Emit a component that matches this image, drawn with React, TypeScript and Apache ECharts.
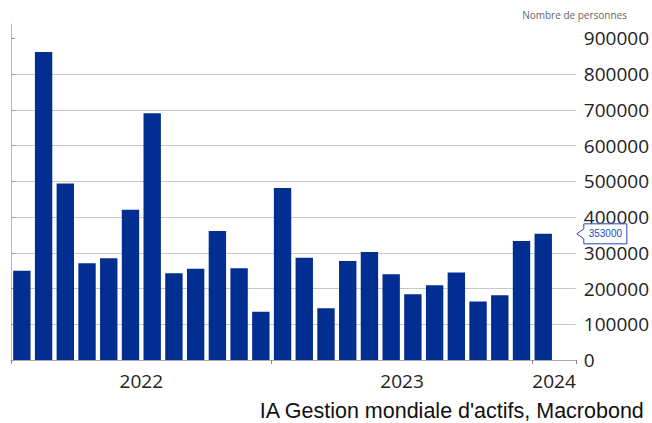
import React, { useEffect, useRef } from "react";
import * as echarts from "echarts";

const months: string[] = [
  "2022-01","2022-02","2022-03","2022-04","2022-05","2022-06","2022-07","2022-08","2022-09","2022-10","2022-11","2022-12",
  "2023-01","2023-02","2023-03","2023-04","2023-05","2023-06","2023-07","2023-08","2023-09","2023-10","2023-11","2023-12",
  "2024-01","2024-02",
];
const values: (number | null)[] = [
  250000, 862000, 494000, 271000, 285000, 420000, 690000, 243000, 255000, 361000, 257000, 135000,
  481000, 286000, 145000, 277000, 302000, 240000, 184000, 209000, 245000, 164000, 181000, 333000,
  353000, null,
];
const yearLabels: { pos: number; text: string }[] = [
  { pos: 6, text: "2022" },
  { pos: 18, text: "2023" },
  { pos: 25, text: "2024" },
];
const yTicks: number[] = [0, 100000, 200000, 300000, 400000, 500000, 600000, 700000, 800000, 900000];
const calloutIndex = 24;
const unitLabel = "Nombre de personnes";
const sourceLabel = "IA Gestion mondiale d'actifs, Macrobond";

export default function App() {
  const ref = useRef<HTMLDivElement>(null);
  useEffect(() => {
    if (!ref.current) return;
    const chart = echarts.init(ref.current, null, { renderer: "svg" });
    const barColor = "#022d91";
    const calloutColor = "#2448c0";
    chart.setOption({
      animation: false,
      backgroundColor: "#ffffff",
      grid: { left: 11, right: 76, top: 24, bottom: 63, containLabel: false },
      title: [
        {
          text: unitLabel,
          right: 25,
          top: 9,
          padding: 0,
          textStyle: { fontSize: 10, lineHeight: 12, fontWeight: "normal", color: "#666", fontFamily: "Open Sans" },
        },
        {
          text: sourceLabel,
          right: 7,
          top: 400,
          padding: 0,
          textStyle: { fontSize: 21.5, lineHeight: 21.5, fontWeight: "normal", color: "#111", fontFamily: "Liberation Sans" },
        },
      ],
      xAxis: [
        {
          type: "category",
          data: months,
          boundaryGap: true,
          axisLine: { show: true, lineStyle: { color: "#aaa", width: 1 } },
          axisTick: { show: true, length: 4, interval: (i: number) => i % 12 === 0, lineStyle: { color: "#888" } },
          axisLabel: { show: false },
          splitLine: { show: false },
        },
        {
          type: "value",
          position: "bottom",
          min: 0,
          max: months.length,
          interval: 1,
          axisLine: { show: false },
          axisTick: { show: false },
          splitLine: { show: false },
          axisLabel: {
            show: true,
            margin: 11,
            fontSize: 19,
            color: "#222",
            fontFamily: "Open Sans",
            formatter: (v: number) => {
              const f = yearLabels.find((y) => y.pos === v);
              return f ? f.text : "";
            },
          },
        },
      ],
      yAxis: {
        type: "value",
        position: "right",
        min: 0,
        max: 940000,
        interval: 100000,
        axisLine: { show: true, lineStyle: { color: "#bbb", width: 1 } },
        axisTick: { show: true, length: 4, customValues: yTicks, lineStyle: { color: "#999" } },
        axisLabel: {
          show: true,
          customValues: yTicks,
          margin: 8,
          fontSize: 19,
          color: "#222",
          fontFamily: "Open Sans",
          formatter: (v: number) => String(v),
        },
        splitLine: { show: true, showMaxLine: false, lineStyle: { color: "#c8c8c8", width: 1 } },
      },
      series: [
        {
          type: "bar",
          data: values,
          xAxisIndex: 0,
          barCategoryGap: "20%",
          itemStyle: { color: barColor },
        },
        {
          type: "custom",
          xAxisIndex: 0,
          z: 5,
          data: [[calloutIndex, values[calloutIndex]]],
          renderItem: (params: any, api: any) => {
            const v = api.value(1);
            const pt = api.coord([api.value(0), v]);
            const cs = params.coordSys;
            const x0 = cs.x + cs.width + 1;
            const y = pt[1];
            return {
              type: "group",
              children: [
                {
                  type: "polygon",
                  shape: {
                    points: [
                      [x0, y],
                      [x0 + 7, y - 5],
                      [x0 + 7, y - 10],
                      [x0 + 50, y - 10],
                      [x0 + 50, y + 10],
                      [x0 + 7, y + 10],
                      [x0 + 7, y + 5],
                    ],
                  },
                  style: { fill: "#fff", stroke: calloutColor, lineWidth: 1 },
                },
                {
                  type: "text",
                  x: x0 + 28.5,
                  y: y,
                  style: {
                    text: String(v),
                    fill: calloutColor,
                    fontSize: 10,
                    fontFamily: "Liberation Sans",
                    align: "center",
                    verticalAlign: "middle",
                  },
                },
              ],
            };
          },
        },
      ],
    });
    return () => chart.dispose();
  }, []);
  return (
    <div
      ref={ref}
      style={{ position: "fixed", left: 0, top: 0, width: 652, height: 423 }}
    />
  );
}
